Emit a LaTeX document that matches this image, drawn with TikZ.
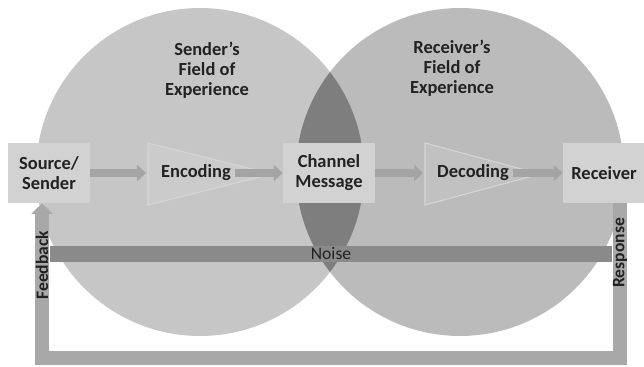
\documentclass[tikz,border=0pt]{standalone}
\usepackage{fontspec}
\setmainfont{Carlito}
\usetikzlibrary{arrows.meta, positioning}

\definecolor{leftfield}{HTML}{C6C6C6}
\definecolor{rightfield}{HTML}{BBBBBB}
\definecolor{overlap}{HTML}{7E7E7E}
\definecolor{boxfill}{HTML}{D2D2D2}
\definecolor{leftamp}{HTML}{CBCBCB}
\definecolor{rightamp}{HTML}{C1C1C1}
\definecolor{ampline}{HTML}{D6D6D6}
\definecolor{noisefill}{HTML}{8A8A8A}
\definecolor{loopfill}{HTML}{A8A8A8}
\definecolor{flowfill}{HTML}{A4A4A4}
\definecolor{inkgray}{HTML}{222222}

\tikzset{
  stage/.style={fill=boxfill, minimum height=1.2cm, align=center, inner sep=1pt,
    font=\fontsize{10.5}{11.4}\selectfont\bfseries, text=inkgray},
  codetext/.style={align=center, inner sep=2pt, font=\fontsize{10.5}{11.4}\selectfont\bfseries, text=inkgray},
  fieldtext/.style={align=center, font=\fontsize{10.5}{11.4}\selectfont\bfseries, text=inkgray},
  amp/.style={draw=ampline, line width=0.6pt},
  flow/.style={draw=flowfill, line width=4pt, -{Triangle[width=9pt,length=5pt]}},
  noisebar/.style={fill=noisefill, minimum width=11.26cm, minimum height=0.34cm, inner sep=0pt,
    font=\fontsize{10}{12}\selectfont, text=inkgray},
  loopbar/.style={draw=loopfill, line width=8.5pt, -{Triangle[width=12pt,length=6pt]}},
  barlbl/.style={rotate=90, inner sep=0pt, font=\fontsize{10}{12}\selectfont\bfseries, text=inkgray}
}

\begin{document}
\begin{tikzpicture}[x=0.02cm, y=-0.02cm]
\useasboundingbox (0,0) rectangle (644,367);
% fields of experience
\fill[leftfield] (200,172) circle (3.28cm);
\fill[rightfield] (460,172) circle (3.28cm);
\begin{scope}
  \clip (200,172) circle (3.28cm);
  \fill[overlap] (460,172) circle (3.28cm);
\end{scope}
\node[fieldtext] (sfield) at (207,70) {Sender’s\\Field of\\Experience};
\node[fieldtext] (rfield) at (452,68) {Receiver’s\\Field of\\Experience};
% coder triangles
\filldraw[amp, fill=leftamp] (148,143) -- (148,205) -- (272,174) -- cycle;
\filldraw[amp, fill=rightamp] (425,143) -- (425,205) -- (540,174) -- cycle;
% stages
\node[stage, minimum width=1.64cm] (src) at (49,173) {Source/\\Sender};
\node[codetext] (enc) at (196,173) {Encoding};
\node[stage, minimum width=1.84cm] (chan) at (329,173) {Channel\\Message};
\node[codetext] (dec) at (473,173) {Decoding};
\node[stage, minimum width=1.64cm] (rcv) at (604,173) {Receiver};
\coordinate (encin) at (146,173);
\coordinate (decin) at (423,173);
% flow
\draw[flow] (src) -- (encin);
\draw[flow] (enc) -- (chan);
\draw[flow] (chan) -- (decin);
\draw[flow] (dec) -- (rcv);
% noise
\node[noisebar] (noise) at (331,254) {Noise};
% feedback loop
\coordinate (fbx) at (42,358);
\coordinate (rsx) at (620,358);
\draw[loopbar] (rcv.south -| rsx) -- node[barlbl, pos=0.32] {Response} (rsx)
  -- (fbx) -- node[barlbl, pos=0.6] {Feedback} (src.south -| fbx);
\end{tikzpicture}
\end{document}
